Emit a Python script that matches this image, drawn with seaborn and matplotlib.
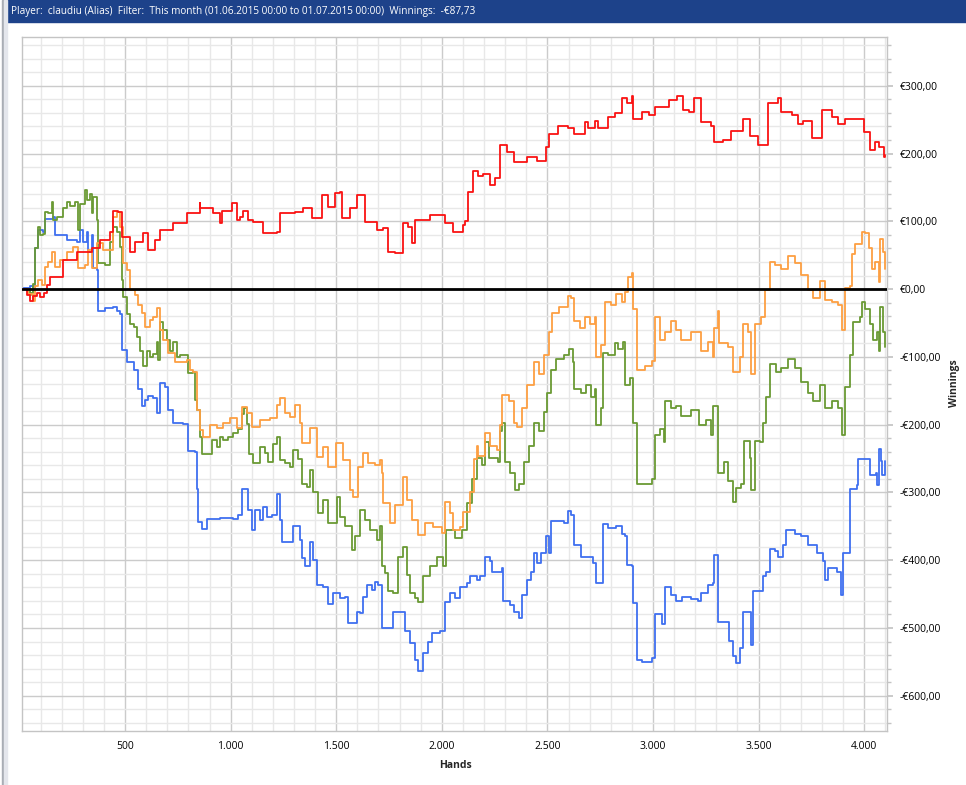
import pandas as pd
import matplotlib
matplotlib.use("Agg")
import matplotlib.pyplot as plt
import matplotlib.ticker as mticker
from matplotlib.patches import Rectangle
import seaborn as sns

sns.set_theme(style="white")
plt.rcParams['font.family'] = ['Open Sans', 'DejaVu Sans']

# valores (manos, ganancias en euros)
red_hands = [12, 18, 34, 50, 66, 82, 98, 114, 129, 145, 206, 272, 343, 381, 429, 444, 466, 485, 523, 547,
             585, 609, 642, 665, 727, 793, 855, 857, 917, 950, 959, 1006, 1030, 1044, 1059, 1082, 1106, 1153,
             1219, 1234, 1305, 1343, 1385, 1432, 1461, 1494, 1518, 1527, 1565, 1598, 1636, 1693, 1721, 1745,
             1778, 1816, 1840, 1858, 1873, 1944, 2000, 2015, 2053, 2100, 2110, 2125, 2149, 2173, 2197, 2228,
             2252, 2268, 2276, 2308, 2340, 2404, 2452, 2492, 2508, 2548, 2596, 2628, 2676, 2692, 2724, 2740,
             2787, 2819, 2851, 2875, 2899, 2907, 2947, 2979, 3011, 3043, 3075, 3115, 3143, 3171, 3195, 3227,
             3275, 3291, 3330, 3370, 3425, 3457, 3497, 3521, 3544, 3592, 3608, 3656, 3687, 3711, 3751, 3798,
             3846, 3878, 3909, 3957, 3997, 4028, 4052, 4068, 4092, 4100]
red_won = [0, 0, -9, -18, -10, -6, -11, -6, 6, 18, 43, 55, 60, 72, 84, 116, 114, 77, 55, 69,
           83, 58, 72, 87, 97, 112, 127, 120, 112, 97, 116, 127, 102, 106, 116, 102, 99, 83,
           84, 112, 114, 119, 105, 139, 121, 142, 143, 105, 119, 139, 99, 87, 90, 55,
           53, 97, 91, 68, 102, 109, 109, 97, 84, 94, 100, 144, 175, 167, 170, 153,
           164, 164, 212, 203, 187, 195, 189, 209, 229, 240, 237, 229, 246, 237, 248, 237,
           254, 260, 282, 274, 285, 251, 262, 257, 268, 268, 279, 285, 265, 262, 282, 246,
           240, 217, 220, 234, 251, 226, 212, 212, 274, 282, 262, 257, 243, 248, 223, 265,
           254, 243, 251, 251, 232, 206, 217, 209, 195, 198]

orange_hands = [12, 18, 42, 66, 74, 88, 107, 121, 135, 154, 168, 192, 225, 254, 277, 310, 324, 343, 367, 395,
                429, 444, 462, 476, 490, 509, 523, 547, 561, 580, 594, 618, 632, 651, 665, 680, 703, 736,
                774, 793, 807, 822, 841, 855, 869, 902, 935, 964, 997, 1030, 1054, 1078, 1101, 1139, 1186,
                1219, 1234, 1257, 1281, 1305, 1328, 1338, 1376, 1409, 1437, 1461, 1499, 1532, 1565, 1579,
                1603, 1627, 1650, 1683, 1707, 1716, 1721, 1754, 1778, 1816, 1835, 1858, 1887, 1920, 1958,
                2000, 2015, 2039, 2053, 2086, 2100, 2133, 2150, 2167, 2173, 2205, 2228, 2260, 2276, 2284,
                2316, 2340, 2356, 2380, 2404, 2436, 2460, 2484, 2508, 2524, 2556, 2596, 2612, 2628, 2652,
                2676, 2700, 2724, 2732, 2756, 2772, 2803, 2827, 2851, 2867, 2883, 2899, 2907, 2923, 2963,
                2995, 3011, 3035, 3059, 3083, 3107, 3132, 3179, 3227, 3259, 3283, 3291, 3306, 3314, 3354,
                3378, 3410, 3425, 3449, 3465, 3481, 3513, 3532, 3552, 3576, 3608, 3640, 3671, 3703, 3735,
                3759, 3790, 3814, 3846, 3878, 3894, 3909, 3933, 3941, 3957, 3981, 3989, 4005, 4021, 4036,
                4052, 4068, 4076, 4087, 4100]
orange_won = [0, 0, -7, -17, 5, 13, 6, 32, 40, 55, 32, 43, 55, 62, 31, 35, 58, 31, 68, 58,
              58, 106, 114, 91, 38, 28, -1, -9, -24, -35, -56, -46, -41, -28, -60, -75, -94, -107,
              -107, -105, -119, -122, -178, -208, -218, -200, -205, -198, -190, -205, -174, -183, -204, -193, -190,
              -171, -161, -183, -189, -171, -198, -227, -205, -248, -233, -263, -227, -252, -296, -307,
              -263, -242, -257, -260, -252, -272, -316, -345, -319, -277, -311, -341, -363, -345, -351,
              -360, -314, -330, -355, -351, -329, -300, -250, -232, -246, -212, -232, -238, -201, -156,
              -165, -198, -204, -176, -142, -108, -125, -97, -64, -35, -27, -10, -13, -47, -58,
              -41, -52, -41, -100, -83, -19, -24, -7, -19, -4, 18, 24, -30, -120, -114,
              -106, -41, -75, -64, -47, -61, -75, -64, -92, -78, -100, -58, -33, -80, -86,
              -123, -100, -52, -64, -125, -52, -41, -2, 40, 35, 29, 49, 38, 21, -2,
              -13, 12, -16, -19, -24, -61, 1, 4, 52, 66, 66, 85, 83, 60, 29,
              40, 10, 74, 55, 29]

green_hands = [12, 18, 50, 56, 66, 74, 90, 97, 112, 121, 136, 153, 160, 176, 208, 223, 239, 262, 279, 287,
               311, 318, 334, 342, 350, 366, 374, 390, 405, 429, 444, 460, 476, 484, 492, 508, 524, 540,
               555, 571, 587, 603, 619, 634, 650, 658, 666, 682, 697, 713, 729, 745, 761, 792, 800, 824,
               831, 839, 855, 863, 887, 911, 934, 950, 966, 989, 1013, 1037, 1053, 1061, 1077, 1085, 1107,
               1139, 1163, 1179, 1202, 1218, 1234, 1257, 1281, 1297, 1320, 1336, 1360, 1375, 1391, 1415,
               1439, 1462, 1502, 1518, 1541, 1573, 1589, 1612, 1636, 1660, 1691, 1707, 1715, 1731, 1747,
               1770, 1794, 1818, 1833, 1849, 1873, 1889, 1912, 1944, 1975, 2007, 2022, 2046, 2062, 2094,
               2117, 2141, 2165, 2189, 2205, 2221, 2245, 2268, 2276, 2284, 2300, 2324, 2348, 2364, 2388,
               2412, 2436, 2460, 2484, 2500, 2516, 2540, 2580, 2604, 2620, 2628, 2660, 2684, 2708, 2724,
               2732, 2756, 2764, 2788, 2819, 2835, 2859, 2867, 2891, 2907, 2923, 2947, 2995, 3008, 3035,
               3051, 3059, 3083, 3107, 3131, 3140, 3179, 3219, 3251, 3275, 3283, 3306, 3310, 3338, 3354,
               3378, 3394, 3418, 3433, 3457, 3465, 3481, 3505, 3521, 3537, 3552, 3584, 3608, 3640, 3671,
               3703, 3735, 3759, 3790, 3814, 3846, 3878, 3894, 3909, 3933, 3949, 3981, 3989, 4005, 4028,
               4044, 4060, 4068, 4076, 4087, 4100]
green_won = [0, 0, -9, -6, 8, 60, 92, 80, 82, 114, 112, 129, 102, 107, 119, 129, 122, 129, 87, 126,
             146, 131, 141, 112, 136, 102, 38, 38, 35, 69, 92, 84, 62, 13, -11, -36, -51, -56,
             -70, -92, -114, -92, -100, -95, -78, -104, -48, -60, -75, -92, -78, -100, -97, -97, -124, -122,
             -163, -178, -218, -243, -243, -223, -233, -218, -223, -218, -213, -206, -184, -176, -199, -243, -257,
             -233, -242, -255, -228, -218, -252, -257, -262, -237, -250, -287, -292, -267, -299, -331,
             -311, -345, -306, -336, -350, -385, -365, -326, -340, -355, -370, -350, -409, -419, -446,
             -449, -395, -380, -422, -449, -456, -461, -424, -409, -395, -409, -355, -355, -367, -355,
             -315, -280, -249, -260, -226, -249, -249, -255, -210, -198, -255, -271, -297, -288, -255,
             -232, -198, -210, -182, -153, -120, -103, -97, -89, -108, -148, -153, -142, -159, -148,
             -201, -176, -94, -97, -80, -89, -78, -142, -131, -198, -288, -288, -280, -215, -207,
             -226, -165, -176, -173, -187, -187, -179, -201, -193, -215, -173, -176, -271, -255, -283,
             -314, -294, -288, -224, -249, -297, -224, -226, -198, -159, -111, -123, -117, -103, -117,
             -137, -153, -165, -142, -176, -165, -176, -215, -145, -97, -49, -41, -19, -30, -52,
             -75, -64, -92, -27, -64, -86]

blue_hands = [12, 18, 50, 66, 74, 90, 112, 121, 160, 168, 215, 223, 271, 287, 303, 318, 326, 342, 350, 366,
              374, 405, 445, 460, 476, 484, 508, 540, 563, 579, 595, 611, 634, 650, 666, 690, 705, 729,
              776, 800, 831, 839, 847, 863, 887, 950, 1013, 1037, 1053, 1077, 1084, 1100, 1115, 1139, 1155,
              1171, 1194, 1218, 1234, 1242, 1281, 1297, 1313, 1328, 1336, 1352, 1375, 1391, 1407, 1439,
              1462, 1486, 1518, 1541, 1557, 1581, 1597, 1612, 1628, 1644, 1667, 1683, 1699, 1715, 1739,
              1770, 1818, 1826, 1849, 1873, 1889, 1905, 1912, 1936, 1952, 1991, 2015, 2038, 2062, 2085,
              2117, 2133, 2165, 2181, 2205, 2228, 2236, 2268, 2284, 2292, 2324, 2340, 2364, 2380, 2404,
              2420, 2436, 2452, 2468, 2492, 2508, 2516, 2556, 2580, 2596, 2612, 2628, 2660, 2692, 2716,
              2732, 2756, 2764, 2788, 2827, 2851, 2867, 2875, 2899, 2907, 2923, 2947, 2995, 3011, 3035,
              3043, 3059, 3083, 3107, 3139, 3179, 3211, 3227, 3259, 3283, 3287, 3306, 3310, 3346, 3362,
              3378, 3394, 3410, 3425, 3457, 3465, 3473, 3513, 3521, 3537, 3552, 3576, 3592, 3616, 3632,
              3656, 3671, 3703, 3735, 3775, 3806, 3814, 3830, 3870, 3889, 3901, 3917, 3933, 3965, 3973,
              4013, 4028, 4057, 4063, 4068, 4079, 4084, 4100]
blue_won = [0, 2, 4, 0, 60, 87, 85, 104, 107, 80, 80, 73, 70, 87, 70, 85, 55, 80, 31, 28,
            -33, -28, -26, -33, -36, -90, -107, -119, -148, -173, -163, -158, -160, -183, -139, -144, -178, -197,
            -199, -239, -241, -295, -344, -354, -339, -337, -339, -334, -295, -295, -326, -355, -326, -341, -321,
            -336, -333, -302, -341, -373, -373, -350, -350, -370, -397, -409, -373, -400, -437, -439,
            -464, -449, -456, -454, -493, -493, -476, -478, -454, -437, -444, -432, -437, -500, -500,
            -476, -476, -505, -522, -547, -564, -564, -537, -520, -508, -505, -461, -449, -456, -439,
            -434, -423, -429, -423, -395, -401, -418, -418, -412, -460, -466, -477, -485, -451, -429,
            -418, -390, -404, -390, -364, -390, -342, -342, -345, -328, -333, -378, -395, -395, -404,
            -434, -434, -347, -353, -350, -362, -364, -407, -409, -463, -547, -550, -544, -480, -480,
            -494, -440, -451, -460, -454, -457, -460, -448, -437, -434, -392, -398, -491, -491, -519,
            -541, -552, -530, -477, -477, -525, -446, -446, -423, -418, -384, -387, -395, -378, -355,
            -355, -361, -364, -378, -390, -401, -429, -412, -418, -451, -390, -390, -295, -289, -250,
            -250, -275, -272, -289, -236, -254, -275, -254]

series = ['blue', 'green', 'orange', 'red']
colores = {'red': '#fa1212', 'orange': '#fd9f42', 'green': '#6a9a34', 'blue': '#3f6ff0'}

frames = []
for nombre, h, w in [('blue', blue_hands, blue_won), ('green', green_hands, green_won),
                     ('orange', orange_hands, orange_won), ('red', red_hands, red_won)]:
    frames.append(pd.DataFrame({'Hands': h, 'Winnings': w, 'serie': nombre}))
df = pd.concat(frames, ignore_index=True)

fig = plt.figure(figsize=(9.66, 7.85), dpi=100)

# barra de titulo y borde de la ventana
fig.patches.append(Rectangle((7 / 966, 1 - 22 / 785), 1, 22 / 785, transform=fig.transFigure,
                             color='#1d428a', zorder=0))
fig.patches.append(Rectangle((2 / 966, 0), 1.5 / 966, 1, transform=fig.transFigure,
                             color='#a9adb5', zorder=0))
fig.patches.append(Rectangle((3.5 / 966, 0), 3.5 / 966, 1, transform=fig.transFigure,
                             color='#e4e6ec', zorder=0))
fig.text(11 / 966, 1 - 11.5 / 785,
         'Player:  claudiu (Alias)  Filter:  This month (01.06.2015 00:00 to 01.07.2015 00:00)  Winnings:  -€87,73',
         color='white', fontsize=7.2, va='center', ha='left')

ax = fig.add_axes([22 / 966, 1 - 731 / 785, (887 - 22) / 966, (731 - 37) / 785])
sns.lineplot(data=df, x='Hands', y='Winnings', hue='serie', hue_order=series, palette=colores,
             estimator=None, sort=False, linewidth=1.3, legend=False, ax=ax, drawstyle='steps-post')
ax.axhline(0, color='black', lw=2, zorder=5)

ax.set_xlim(12, 4108)
ax.set_ylim(-652, 372)
ax.xaxis.set_major_locator(mticker.MultipleLocator(500))
ax.xaxis.set_minor_locator(mticker.MultipleLocator(100))
ax.yaxis.set_major_locator(mticker.MultipleLocator(100))
ax.yaxis.set_minor_locator(mticker.MultipleLocator(20))
ax.xaxis.set_major_formatter(mticker.FuncFormatter(lambda v, p: f'{int(v):,}'.replace(',', '.')))
ax.yaxis.set_major_formatter(mticker.FuncFormatter(
    lambda v, p: ('-' if v < 0 else '') + '€' + f'{abs(v):.2f}'.replace('.', ',')))
ax.yaxis.tick_right()

ax.set_axisbelow(True)
ax.grid(which='major', color='#cbcbcb', lw=1)
ax.grid(which='minor', color='#e8e8e8', lw=1)
for s in ax.spines.values():
    s.set_color('#c4c4c4')
    s.set_linewidth(1)
ax.tick_params(which='both', direction='out', color='#c4c4c4', labelsize=7.5, labelcolor='black')
ax.tick_params(which='major', length=4, pad=3)
ax.tick_params(which='minor', length=3)
ax.tick_params(axis='y', which='major', pad=5)

ax.set_xlabel('')
ax.set_ylabel('')
fig.text(455 / 966, 1 - 765 / 785, 'Hands', fontsize=7.5, fontweight='bold', ha='center', va='center')
fig.text(955 / 966, 1 - 383 / 785, 'Winnings', fontsize=7.5, fontweight='bold', ha='center', va='center',
         rotation=90)

fig.savefig('out.png', dpi=100, facecolor='white')
